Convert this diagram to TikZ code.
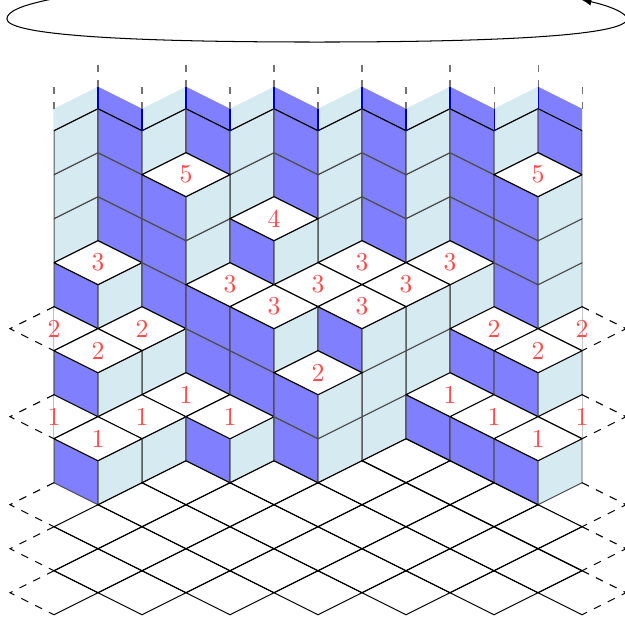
\documentclass[tikz,border=0pt]{standalone}
\definecolor{bluefc}{RGB}{128,128,255}
\definecolor{lightfc}{RGB}{214,234,241}
\tikzset{
  leftfc/.style={fill=bluefc,draw=black!70},
  rightfc/.style={fill=lightfc,draw=black!70},
  toptile/.style={fill=white,draw=black},
  floorline/.style={draw=black},
  edgedash/.style={dashed,draw=black},
  stubdash/.style={dashed,draw=black!55},
  heightnum/.style={text=red!70,inner sep=0pt}
}
% x of the pile / floor level / height, from the back to the front
\newcommand{\pilelist}{1/10/3,3/10/5,5/10/4,7/10/3,9/10/3,11/10/5,
    0/9/2,2/9/2,4/9/3,6/9/3,8/9/3,10/9/2,12/9/2,
    1/8/2,3/8/1,5/8/3,7/8/3,9/8/1,11/8/2,
    0/7/1,2/7/1,4/7/1,6/7/2,10/7/1,12/7/1,
    1/6/1,11/6/1}
% one pile of cubes
\newcommand{\cubepile}[3]{
  \foreach \k in {1,...,#3} {
    \pgfmathsetmacro{\jb}{#2+2*\k-3}
    \filldraw[leftfc] (#1,\jb) -- (#1-1,\jb+1) -- (#1-1,\jb+3) -- (#1,\jb+2) -- cycle;
    \filldraw[rightfc] (#1,\jb) -- (#1+1,\jb+1) -- (#1+1,\jb+3) -- (#1,\jb+2) -- cycle;
  }
  \pgfmathsetmacro{\jc}{#2+2*#3}
  \filldraw[toptile] (#1-1,\jc) -- (#1,\jc+1) -- (#1+1,\jc) -- (#1,\jc-1) -- cycle;
}
\begin{document}
\begin{tikzpicture}[x=0.6cm,y=0.3cm]
    \useasboundingbox (-1.227,-0.377) rectangle (12.977,27.94);
    \begin{scope}
        \clip (0,-1) rectangle (12,24.1);
        % Back wall
        \foreach \i in {0,2,...,12} {
            \foreach \j in {10,12,...,20} {
                \filldraw[leftfc] (\i,\j) -- (\i-1,\j+1) -- (\i-1,\j+3) -- (\i,\j+2) -- cycle;
                \filldraw[rightfc] (\i,\j) -- (\i+1,\j+1) -- (\i+1,\j+3) -- (\i,\j+2) -- cycle;
            }
            \fill[bluefc] (\i,22) -- (\i-1,23) -- (\i-1,24) -- (\i,23) -- cycle;
            \fill[lightfc] (\i,22) -- (\i+1,23) -- (\i+1,24) -- (\i,23) -- cycle;
            \draw[black] (\i-1,23) -- (\i,22) -- (\i+1,23);
        }
        \foreach \i in {1,2,...,11} {
            \draw[blue!70!black] (\i,{23+mod(\i,2)}) -- (\i,{22+mod(\i,2)});
        }
        % Piles
        \foreach \i/\b/\h in \pilelist {\cubepile{\i}{\b}{\h}}
        % Floor
        \foreach \i/\j in {0/1,0/3,1/2,1/4,2/1,2/3,2/5,3/2,3/4,3/6,4/1,4/3,4/5,5/2,5/4,5/6,
                           6/1,6/3,6/5,7/2,7/4,7/6,8/1,8/3,8/5,8/7,9/2,9/4,9/6,
                           10/1,10/3,10/5,11/2,11/4,12/1,12/3} {
            \draw[floorline] (\i-1,\j) -- (\i,\j+1) -- (\i+1,\j) -- (\i,\j-1) -- cycle;
        }
    \end{scope}
    % Numbers
    \foreach \i/\b/\h in \pilelist {
        \pgfmathtruncatemacro{\jc}{\b+2*\h}
        \node[heightnum] (top-\i-\b) at (\i,\jc) {\h};
    }
    % Dashed edges
    \foreach \j in {1,3,5,9,13} {
        \draw[edgedash] (0,\j+1) -- (-1,\j) -- (0,\j-1);
        \draw[edgedash] (12,\j+1) -- (13,\j) -- (12,\j-1);
    }
    \foreach \i in {0,2,...,12} {
        \draw[stubdash] (\i,24) -- (\i,23);
    }
    \foreach \i in {1,3,...,11} {
        \draw[stubdash] (\i,25) -- (\i,24);
    }
    % Loop above the wall
    \coordinate (loopstart) at (0,28);
    \coordinate (loopleft) at (-1.07,27.08);
    \coordinate (loopbottom) at (5.98,26.03);
    \coordinate (loopright) at (13.02,27.08);
    \coordinate (looptip) at (11.98,27.96);
    \draw[-latex] (loopstart) .. controls (-0.77,27.7) and (-1.07,27.4) .. (loopleft)
        .. controls (-1.07,26.44) and (1.05,26.03) .. (loopbottom)
        .. controls (10.9,26.03) and (13.02,26.44) .. (loopright)
        .. controls (13.02,27.34) and (12.64,27.67) .. (looptip);
\end{tikzpicture}
\end{document}
